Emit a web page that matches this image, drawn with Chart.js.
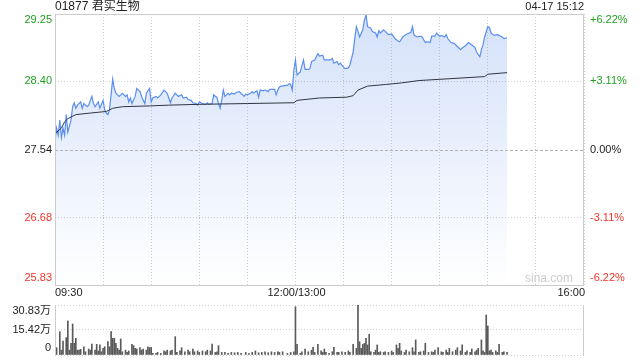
<!DOCTYPE html>
<html>
<head>
<meta charset="utf-8">
<script src="https://cdn.jsdelivr.net/npm/chart.js@4/dist/chart.umd.min.js"></script>
<style>
  html, body { margin: 0; padding: 0; background: #fff; }
  #wrap { position: relative; width: 640px; height: 360px; overflow: hidden; }
  canvas { position: absolute; left: 0; }
  #price { top: 0; }
  #vol { top: 295px; }
</style>
</head>
<body>
<div id="wrap">
  <canvas id="price" width="640" height="300"></canvas>
  <canvas id="vol" width="640" height="65"></canvas>
</div>
<script>
// ---- data ----
const stockName = "01877 君实生物";
const stamp = "04-17 15:12";
const prevClose = 27.54;
const priceTicks = [25.83, 26.68, 27.54, 28.40, 29.25];
const pctTicks = ["-6.22%", "-3.11%", "0.00%", "+3.11%", "+6.22%"];
const timeLabels = ["09:30", "12:00/13:00", "16:00"];
const volTicks = [0, 15.42, 30.83];
const volTickLabels = ["0", "15.42万", "30.83万"];

// trading minutes since 09:30 (lunch break removed, 330 = 16:00)
const priceMin = [
  0, 1, 2, 3, 4, 5, 6, 7, 8, 10,
  11, 12, 13, 14, 16, 17, 18, 20, 21, 23,
  24, 25, 27, 28, 30, 31, 32, 33, 34, 36,
  37, 38, 39, 40, 42, 44, 45, 46, 47, 48,
  50, 51, 53, 54, 56, 57, 59, 60, 61, 63,
  64, 66, 68, 69, 70, 72, 73, 75, 76, 77,
  79, 80, 82, 83, 85, 86, 88, 89, 90, 92,
  94, 95, 96, 98, 99, 100, 101, 102, 103, 104,
  105, 106, 108, 109, 110, 112, 113, 115, 116, 118,
  119, 120, 122, 123, 124, 125, 126, 127, 128, 130,
  131, 133, 134, 135, 137, 138, 139, 140, 141, 142,
  144, 145, 146, 147, 148, 149, 150, 151, 153, 155,
  156, 158, 159, 160, 162, 164, 165, 167, 168, 170,
  172, 173, 174, 176, 177, 178, 180, 181, 183, 184,
  186, 187, 188, 189, 190, 192, 193, 194, 195, 197,
  198, 200, 201, 202, 203, 205, 206, 208, 210, 211,
  212, 214, 215, 217, 218, 220, 222, 223, 224, 226,
  228, 229, 231, 232, 234, 235, 237, 238, 240, 241,
  243, 244, 245, 247, 249, 251, 253, 254, 256, 258,
  260, 262, 263, 265, 266, 267, 268, 270, 271, 272,
  274, 276, 277, 279, 280, 282
];
const priceVal = [
  27.64, 27.81, 27.72, 27.91, 27.69, 27.81, 27.72, 27.98, 27.76, 27.91,
  28.08, 28.13, 28.06, 28.10, 28.14, 28.06, 28.12, 28.08, 28.10, 28.21,
  28.12, 28.08, 28.14, 28.06, 28.16, 28.04, 28.00, 27.98, 28.04, 28.43,
  28.31, 28.25, 28.23, 28.21, 28.25, 28.21, 28.23, 28.14, 28.19, 28.12,
  28.21, 28.31, 28.27, 28.21, 28.12, 28.25, 28.31, 28.14, 28.19, 28.21,
  28.19, 28.23, 28.29, 28.27, 28.25, 28.13, 28.19, 28.25, 28.23, 28.21,
  28.23, 28.19, 28.20, 28.17, 28.16, 28.13, 28.12, 28.10, 28.14, 28.12,
  28.11, 28.13, 28.11, 28.12, 28.23, 28.21, 28.20, 28.12, 28.06, 28.16,
  28.29, 28.21, 28.25, 28.23, 28.25, 28.24, 28.26, 28.27, 28.25, 28.21,
  28.24, 28.23, 28.25, 28.27, 28.25, 28.27, 28.28, 28.20, 28.29, 28.28,
  28.29, 28.27, 28.30, 28.30, 28.30, 28.23, 28.29, 28.33, 28.34, 28.34,
  28.35, 28.35, 28.37, 28.36, 28.29, 28.54, 28.67, 28.48, 28.52, 28.67,
  28.55, 28.55, 28.56, 28.65, 28.67, 28.75, 28.72, 28.73, 28.67, 28.67,
  28.67, 28.69, 28.63, 28.65, 28.61, 28.63, 28.58, 28.56, 28.57, 28.61,
  28.77, 28.94, 29.09, 29.03, 28.96, 29.05, 29.17, 29.24, 29.09, 29.07,
  29.03, 29.01, 28.96, 29.04, 29.01, 29.05, 29.03, 28.99, 29.00, 28.97,
  28.94, 28.91, 28.90, 28.96, 28.98, 29.00, 29.02, 29.09, 28.98, 28.96,
  28.97, 28.96, 28.89, 28.90, 28.89, 28.97, 28.97, 29.01, 28.97, 28.98,
  28.96, 28.99, 28.94, 28.89, 28.88, 28.84, 28.80, 28.82, 28.85, 28.89,
  28.86, 28.83, 28.77, 28.71, 28.80, 28.86, 28.96, 29.09, 29.08, 29.01,
  28.98, 28.99, 28.98, 28.96, 28.94, 28.95
];

const avgMin = [0, 4, 6, 8, 13, 22, 32, 36, 42, 59, 71, 90, 120, 149, 151, 165, 182, 186, 189, 195, 206, 216, 227, 268, 270, 282];
const avgVal = [27.74, 27.81, 27.89, 27.93, 27.98, 28.00, 28.02, 28.06, 28.08, 28.09, 28.10, 28.11, 28.12, 28.13, 28.16, 28.19, 28.20, 28.22, 28.29, 28.34, 28.36, 28.38, 28.41, 28.46, 28.49, 28.51];

// volume in 万 shares
const volMin = [
  0, 1, 3, 4, 5, 7, 8, 9, 10, 11,
  12, 13, 14, 15, 16, 18, 19, 21, 22, 23,
  25, 26, 27, 28, 29, 30, 31, 33, 34, 35,
  36, 37, 38, 39, 40, 41, 42, 44, 45, 46,
  48, 49, 50, 51, 53, 54, 55, 57, 58, 59,
  60, 61, 63, 64, 66, 68, 69, 70, 72, 73,
  75, 76, 78, 79, 81, 83, 84, 86, 87, 89,
  90, 92, 94, 95, 97, 98, 100, 101, 102, 104,
  106, 108, 110, 112, 114, 116, 119, 121, 123, 125,
  127, 129, 131, 133, 135, 137, 139, 140, 142, 145,
  147, 149, 150, 151, 153, 154, 156, 158, 160, 161,
  162, 164, 166, 167, 168, 169, 171, 173, 174, 176,
  177, 179, 181, 183, 184, 186, 188, 189, 190, 191,
  192, 193, 194, 195, 196, 197, 199, 200, 201, 202,
  203, 205, 206, 208, 210, 211, 213, 214, 215, 216,
  218, 219, 221, 223, 224, 225, 227, 228, 230, 231,
  233, 235, 236, 237, 239, 241, 242, 244, 245, 246,
  248, 250, 251, 253, 254, 256, 257, 259, 260, 262,
  263, 264, 266, 267, 268, 269, 270, 271, 272, 273,
  275, 276, 277, 279, 280, 282
];
const volVal = [
  6.2, 4.5, 14.4, 3, 8.6, 10.7, 21, 3, 7.2, 19.1,
  7.2, 10.3, 3, 3, 3.5, 5.1, 2, 3.7, 3, 6.8,
  3, 6.6, 2.5, 6.2, 2, 4.1, 5.1, 8.2, 5.1, 14.4,
  10.3, 10.3, 7.2, 4.1, 3, 9.9, 2, 3, 1.6, 2.5,
  6.6, 5.8, 4.1, 3.7, 4.5, 3, 3.7, 3, 5.1, 4.5,
  4.7, 1, 1, 1.6, 1, 2.5, 2, 3, 2.5, 3,
  11.3, 1.6, 2.5, 4.5, 2, 3, 2, 3.7, 2, 2.5,
  1.6, 2.5, 2, 3, 2.5, 6.8, 1.6, 2, 5.8, 1.6,
  1.6, 1, 1.6, 1.4, 1.6, 1, 1.6, 1, 1.6, 2.5,
  1.4, 1.6, 2, 1.4, 2, 1.6, 2, 1.6, 2, 1,
  1.6, 2, 29.8, 6.6, 1, 2, 3.7, 2, 3, 4.7,
  1.6, 6.6, 2.5, 1.6, 3.7, 1.6, 1, 2, 4.7, 1.6,
  1.6, 2, 1.6, 2.5, 1.6, 6.6, 4.1, 30.83, 8.2, 4.1,
  6.6, 7.2, 10.3, 6.2, 12.8, 2, 1.6, 3, 6.2, 1.6,
  2, 1.6, 2, 1.6, 2.5, 1.6, 6.2, 4.1, 7.2, 2.5,
  1.6, 3, 2, 4.5, 2, 9.3, 1.6, 2, 2.5, 7.2,
  1.6, 2, 1.6, 3, 4.5, 2, 1.6, 3, 1.6, 4.1,
  2, 3, 4.5, 2.5, 6.2, 1.6, 2.5, 1.6, 3.7, 2,
  3, 4.1, 9.3, 2.5, 1.6, 24.7, 17.9, 2.5, 3, 1.6,
  2.5, 1.6, 6.6, 1.6, 2, 1.6
];

// ---- styling ----
const FONT = '11px "Liberation Sans", Arial, "Noto Sans CJK SC", sans-serif';
const TITLE_FONT = '12px "Liberation Sans", Arial, "Noto Sans CJK SC", sans-serif';
const GREEN = "#20a020";
const RED = "#f2352a";
const GRID = "#cfcfcf";
const FRAME = "#cccccc";

function levelColor(v) {
  if (Math.abs(v - prevClose) < 0.001) return "#222";
  return v > prevClose ? GREEN : RED;
}

const pts = (xs, ys) => xs.map((x, i) => ({ x: x, y: ys[i] }));

const priceLabels = {
  id: "priceLabels",
  afterDraw(chart) {
    const { ctx, chartArea: a, scales } = chart;
    const y = scales.y;
    ctx.save();
    // dashed prev-close line
    ctx.strokeStyle = "#b4b4b4";
    ctx.setLineDash([3, 2]);
    ctx.lineWidth = 1;
    const py = Math.round(y.getPixelForValue(prevClose)) + 0.5;
    ctx.beginPath();
    ctx.moveTo(a.left, py);
    ctx.lineTo(a.right, py);
    ctx.stroke();
    ctx.setLineDash([]);
    // frame
    ctx.strokeStyle = FRAME;
    ctx.strokeRect(a.left + 0.5, a.top + 0.5, a.right - a.left - 1, a.bottom - a.top);

    ctx.font = FONT;
    ctx.textBaseline = "middle";
    priceTicks.forEach((v, i) => {
      let ty = y.getPixelForValue(v);
      if (i === 0) ty -= 7;
      if (i === priceTicks.length - 1) ty += 6;
      ctx.fillStyle = levelColor(v);
      ctx.textAlign = "right";
      ctx.fillText(v.toFixed(2), a.left - 3, ty);
      ctx.textAlign = "left";
      ctx.fillText(pctTicks[i], a.right + 6, ty);
    });

    // time labels
    const x = scales.x;
    ctx.fillStyle = "#222";
    ctx.textAlign = "left";
    ctx.fillText(timeLabels[0], a.left, a.bottom + 8);
    ctx.textAlign = "center";
    ctx.fillText(timeLabels[1], x.getPixelForValue(150) + 1, a.bottom + 8);
    ctx.textAlign = "right";
    ctx.fillText(timeLabels[2], a.right + 1, a.bottom + 8);

    // header
    ctx.font = TITLE_FONT;
    ctx.textAlign = "left";
    ctx.fillText(stockName, a.left, 7);
    ctx.font = FONT;
    ctx.textAlign = "right";
    ctx.fillText(stamp, a.right, 7);

    // watermark
    ctx.font = '12px "Liberation Sans", Arial, sans-serif';
    ctx.fillStyle = "#cdcdcd";
    ctx.fillText("sina.com", a.right - 11, a.bottom - 6);
    ctx.restore();
  }
};

new Chart(document.getElementById("price"), {
  type: "line",
  data: {
    datasets: [
      {
        data: pts(avgMin, avgVal),
        borderColor: "#2f3540",
        borderWidth: 1,
        pointRadius: 0,
        fill: false,
        tension: 0
      },
      {
        data: pts(priceMin, priceVal),
        borderColor: "#5a8ef0",
        borderWidth: 1.2,
        pointRadius: 0,
        tension: 0,
        fill: "start",
        backgroundColor: (c) => {
          const area = c.chart.chartArea;
          if (!area) return "rgba(60,120,230,0.15)";
          const g = c.chart.ctx.createLinearGradient(0, area.top, 0, area.bottom);
          g.addColorStop(0, "rgba(60,120,230,0.22)");
          g.addColorStop(1, "rgba(60,120,230,0.0)");
          return g;
        }
      }
    ]
  },
  options: {
    responsive: false,
    animation: false,
    layout: { padding: { left: 55, right: 56, top: 14, bottom: 15 } },
    plugins: { legend: { display: false }, tooltip: { enabled: false } },
    scales: {
      x: {
        type: "linear",
        min: 0,
        max: 330,
        ticks: { display: false, stepSize: 30 },
        grid: { color: GRID, drawTicks: false },
        border: { display: false, dash: [1, 2] },
        afterFit: (s) => { s.height = 0; }
      },
      y: {
        min: priceTicks[0],
        max: priceTicks[priceTicks.length - 1],
        afterBuildTicks: (s) => { s.ticks = priceTicks.map((v) => ({ value: v })); },
        ticks: { display: false },
        grid: {
          drawTicks: false,
          color: (c) => (c.tick && Math.abs(c.tick.value - prevClose) < 0.001 ? "rgba(0,0,0,0)" : GRID)
        },
        border: { display: false, dash: [1, 2] },
        afterFit: (s) => { s.width = 0; }
      }
    }
  },
  plugins: [priceLabels]
});

const volLabels = {
  id: "volLabels",
  afterDraw(chart) {
    const { ctx, chartArea: a, scales } = chart;
    ctx.save();
    ctx.strokeStyle = FRAME;
    ctx.lineWidth = 1;
    ctx.beginPath();
    ctx.moveTo(a.left + 0.5, a.top);
    ctx.lineTo(a.left + 0.5, a.bottom);
    ctx.moveTo(a.right - 0.5, a.top);
    ctx.lineTo(a.right - 0.5, a.bottom);
    ctx.stroke();
    ctx.font = FONT;
    ctx.fillStyle = "#222";
    ctx.textAlign = "right";
    ctx.textBaseline = "middle";
    volTicks.forEach((v, i) => {
      let ty = scales.y.getPixelForValue(v);
      if (i === 0) ty -= 7;
      if (i === volTicks.length - 1) ty += 6;
      ctx.fillText(volTickLabels[i], a.left - 4, ty);
    });
    ctx.restore();
  }
};

new Chart(document.getElementById("vol"), {
  type: "bar",
  data: {
    datasets: [
      {
        data: pts(volMin, volVal),
        backgroundColor: "#5a5a5a",
        barThickness: 1
      }
    ]
  },
  options: {
    responsive: false,
    animation: false,
    layout: { padding: { left: 55, right: 56, top: 10, bottom: 5 } },
    plugins: { legend: { display: false }, tooltip: { enabled: false } },
    scales: {
      x: {
        type: "linear",
        min: 0,
        max: 330,
        offset: false,
        ticks: { display: false },
        grid: { display: false },
        border: { display: false },
        afterFit: (s) => { s.height = 0; }
      },
      y: {
        min: 0,
        max: volTicks[volTicks.length - 1],
        afterBuildTicks: (s) => { s.ticks = volTicks.map((v) => ({ value: v })); },
        ticks: { display: false },
        grid: { color: GRID, drawTicks: false },
        border: { display: false, dash: [1, 2] },
        afterFit: (s) => { s.width = 0; }
      }
    }
  },
  plugins: [volLabels]
});
</script>
</body>
</html>
